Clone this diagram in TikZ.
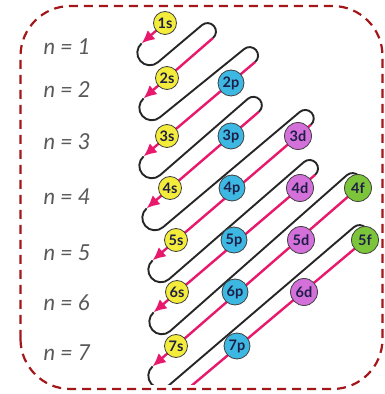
\documentclass[tikz,border=0pt]{standalone}
\usepackage{fontspec}
\setmainfont{Lato}
\usetikzlibrary{arrows.meta,calc,backgrounds}

\definecolor{diagpink}{HTML}{E8196C}
\definecolor{sfill}{HTML}{F4EC3A}
\definecolor{pfill}{HTML}{3DB8E2}
\definecolor{dfill}{HTML}{D370DA}
\definecolor{ffill}{HTML}{7CC53B}
\definecolor{framered}{HTML}{A3161A}
\definecolor{orbtext}{HTML}{1E1E46}

\begin{document}
\begin{tikzpicture}[x=1pt, y=1pt,
  orb/.style={circle, draw=black!75, line width=0.8pt, inner sep=0pt, minimum size=25pt,
    text=orbtext, font=\fontsize{14.5}{14.5}\selectfont\bfseries},
  sub s/.style={orb, fill=sfill, minimum size=23pt},
  sub p/.style={orb, fill=pfill, minimum size=26pt},
  sub d/.style={orb, fill=dfill, minimum size=27pt},
  sub f/.style={orb, fill=ffill, minimum size=27pt},
  shell/.style={anchor=west, text=black!65, font=\fontsize{22}{22}\selectfont\itshape},
  diag/.style={draw=diagpink, line width=2.4pt, -{Latex[length=13pt,width=12pt]}},
  turn/.style={draw=black!85, line width=1.9pt}]
\path[use as bounding box] (0,0) rectangle (384,394);
\draw[framered, line width=2.2pt, dash pattern=on 9pt off 6pt, rounded corners=50pt] (20.5,5) rectangle (382.5,388);

\node[shell] (n1) at (40,347) {n\hspace{5pt}=\hspace{5pt}1};
\node[shell] (n2) at (40,304) {n\hspace{5pt}=\hspace{5pt}2};
\node[shell] (n3) at (40,252) {n\hspace{5pt}=\hspace{5pt}3};
\node[shell] (n4) at (40,197) {n\hspace{5pt}=\hspace{5pt}4};
\node[shell] (n5) at (40,141) {n\hspace{5pt}=\hspace{5pt}5};
\node[shell] (n6) at (40,91) {n\hspace{5pt}=\hspace{5pt}6};
\node[shell] (n7) at (40,41) {n\hspace{5pt}=\hspace{5pt}7};

\node[sub s] (s1) at (165,371) {1s};
\node[sub s] (s2) at (167,316) {2s};
\node[sub p] (p2) at (231,311) {2p};
\node[sub s] (s3) at (167,258) {3s};
\node[sub p] (p3) at (231,258) {3p};
\node[sub d] (d3) at (298,258) {3d};
\node[sub s] (s4) at (170,206) {4s};
\node[sub p] (p4) at (232,206) {4p};
\node[sub d] (d4) at (300,206) {4d};
\node[sub f] (f4) at (358,206) {4f};
\node[sub s] (s5) at (176,154) {5s};
\node[sub p] (p5) at (234,154) {5p};
\node[sub d] (d5) at (301,154) {5d};
\node[sub f] (f5) at (365,154) {5f};
\node[sub s] (s6) at (177,102) {6s};
\node[sub p] (p6) at (235,102) {6p};
\node[sub d] (d6) at (304,102) {6d};
\node[sub s] (s7) at (176,48) {7s};
\node[sub p] (p7) at (237,48) {7p};

% upper and lower ends of the diagonals
\coordinate (t2) at ($(s2)+(41:61pt)$);
\coordinate (t3) at ($(p2)+(41:32pt)$);
\coordinate (t4) at ($(p3)+(41:37pt)$);
\coordinate (t5) at ($(d3)+(41:17pt)$);
\coordinate (t6) at ($(d4)+(41:20pt)$);
\coordinate (t7) at (f4.center);
\coordinate (t8) at (f5.center);
\coordinate (b1) at ($(s1)+(221:31pt)$);
\coordinate (b2) at ($(s2)+(221:31pt)$);
\coordinate (b3) at ($(s3)+(221:31pt)$);
\coordinate (b4) at ($(s4)+(221:31pt)$);
\coordinate (b5) at ($(s5)+(221:31pt)$);
\coordinate (b6) at ($(s6)+(221:31pt)$);
\coordinate (b7) at ($(s7)+(221:31pt)$);
\coordinate (b8) at ($(p7)+(221:70pt)$);

\begin{scope}[on background layer]
\clip (0,9) rectangle (384,394);
\draw[diag] (s1.center) -- (b1);
\draw[diag] (t2) -- (b2);
\draw[diag] (t3) -- (b3);
\draw[diag] (t4) -- (b4);
\draw[diag] (t5) -- (b5);
\draw[diag] (t6) -- (b6);
\draw[diag] (t7) -- (b7);
\draw[diag, -] (t8) -- (b8);
\draw[turn] (b1) arc[start angle=131, end angle=311, radius=12.5pt] -- ($(t2)+(131:17pt)$) arc[start angle=131, end angle=-49, radius=8.5pt];
\draw[turn] (b2) arc[start angle=131, end angle=311, radius=12.5pt] -- ($(t3)+(131:17pt)$) arc[start angle=131, end angle=-49, radius=8.5pt];
\draw[turn] (b3) arc[start angle=131, end angle=311, radius=12.5pt] -- ($(t4)+(131:17pt)$) arc[start angle=131, end angle=-49, radius=8.5pt];
\draw[turn] (b4) arc[start angle=131, end angle=311, radius=12.5pt] -- ($(t5)+(131:17pt)$) arc[start angle=131, end angle=-49, radius=8.5pt];
\draw[turn] (b5) arc[start angle=131, end angle=311, radius=12.5pt] -- ($(t6)+(131:17pt)$) arc[start angle=131, end angle=-49, radius=8.5pt];
\draw[turn] (b6) arc[start angle=131, end angle=311, radius=12.5pt] -- ($(t7)+(131:17pt)$) arc[start angle=131, end angle=-49, radius=8.5pt];
\draw[turn] (b7) arc[start angle=131, end angle=311, radius=12.5pt] -- ($(t8)+(131:17pt)$) arc[start angle=131, end angle=-49, radius=8.5pt];
\end{scope}
\end{tikzpicture}
\end{document}
